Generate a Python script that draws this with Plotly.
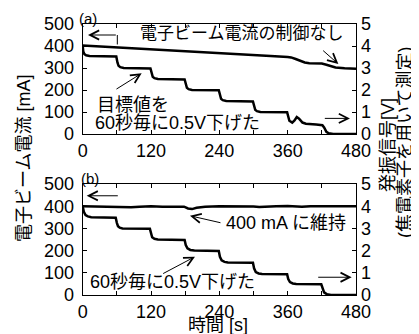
import plotly.graph_objects as go

# ---------------- data ----------------
# panel (a): beam current without control [mA]
t_a_cur = [0, 60, 120, 180, 240, 300, 330, 360, 366, 374, 382, 390, 398, 420, 428, 436, 444, 460, 480]
v_a_cur = [402, 394, 386, 378, 369, 360, 355, 350, 348, 341, 332, 325, 322, 320, 315, 307, 302, 299, 297]
# panel (a): oscillation signal [V]
t_a_sig = [0, 1, 3, 6, 12, 59, 61, 63, 66, 72, 119, 121, 123, 126, 132, 179, 181, 183, 186, 192,
           239, 241, 243, 246, 252, 299, 301, 303, 306, 312, 359, 361, 363, 368, 372, 376, 380, 386,
           392, 410, 421, 424, 428, 432, 440, 480]
v_a_sig = [4.0, 3.75, 3.63, 3.58, 3.55, 3.52, 3.25, 3.1, 3.04, 3.0, 2.98, 2.75, 2.6, 2.54, 2.5,
           2.48, 2.25, 2.1, 2.04, 2.0, 1.99, 1.75, 1.6, 1.54, 1.5, 1.48, 1.25, 1.1, 1.04, 1.0,
           0.99, 0.75, 0.6, 0.52, 0.62, 0.77, 0.7, 0.52, 0.47, 0.43, 0.4, 0.3, 0.1, 0.03, 0.0, 0.0]
# panel (b): beam current held at 400 mA
t_b_cur = [0, 20, 40, 60, 75, 85, 100, 120, 140, 160, 178, 185, 192, 200, 215, 240, 270, 300,
           310, 320, 340, 360, 375, 385, 400, 420, 440, 460, 480]
v_b_cur = [400, 399, 400, 399, 396, 395, 398, 400, 398, 399, 398, 390, 387, 393, 398, 400, 400,
           399, 396, 398, 400, 401, 398, 397, 400, 400, 399, 400, 400]
# panel (b): oscillation signal [V]
t_b_sig = [0, 2, 5, 9, 15, 58, 60, 62, 65, 70, 118, 120, 122, 126, 132, 179, 181, 184, 189, 196,
           239, 241, 244, 249, 255, 299, 301, 304, 309, 315, 359, 361, 364, 369, 375, 419, 421,
           424, 429, 436, 480]
v_b_sig = [4.0, 3.75, 3.6, 3.54, 3.5, 3.48, 3.25, 3.1, 3.03, 3.0, 2.98, 2.75, 2.6, 2.53, 2.5,
           2.48, 2.25, 2.1, 2.03, 2.0, 1.98, 1.72, 1.56, 1.49, 1.46, 1.45, 1.2, 1.03, 0.97, 0.95,
           0.94, 0.72, 0.58, 0.52, 0.5, 0.48, 0.3, 0.12, 0.03, 0.0, 0.0]

x_ticks = [0, 120, 240, 360, 480]
mA_ticks = [0, 100, 200, 300, 400, 500]
V_ticks = [0, 1, 2, 3, 4, 5]

FONT = "Liberation Sans, Arial, Noto Sans CJK JP, sans-serif"
# the page body has an 8 px margin, so the figure is made smaller and all
# page-pixel positions are shifted by that offset
OFF = 8
W, H = 419 - OFF, 334 - OFF


def px(xp):
    return (xp - OFF) / W


def py(yp):
    return 1 - (yp - OFF) / H


# ---------------- figure ----------------
line = dict(color="black", width=2.5)
fig = go.Figure()
fig.add_trace(go.Scatter(x=t_a_cur, y=v_a_cur, xaxis="x", yaxis="y", mode="lines", line=line, cliponaxis=False))
fig.add_trace(go.Scatter(x=t_a_sig, y=v_a_sig, xaxis="x", yaxis="y2", mode="lines", line=line, cliponaxis=False))
fig.add_trace(go.Scatter(x=t_b_cur, y=v_b_cur, xaxis="x2", yaxis="y3", mode="lines", line=line, cliponaxis=False))
fig.add_trace(go.Scatter(x=t_b_sig, y=v_b_sig, xaxis="x2", yaxis="y4", mode="lines", line=line, cliponaxis=False))

xdom = [px(82.7), px(356)]
ydom_a = [py(134), py(24)]
ydom_b = [py(295), py(184)]

tickfont = dict(family=FONT, size=18, color="black")
common_x = dict(range=[0, 480], tickvals=x_ticks, ticks="inside", ticklen=4, tickcolor="black",
                showline=True, linecolor="black", linewidth=1, mirror="ticks", showgrid=False,
                zeroline=False, tickfont=tickfont, automargin=False,
                minor=dict(tickvals=[60, 180, 300, 420], ticks="inside", ticklen=4, tickcolor="black"))
common_l = dict(range=[0, 500], tickvals=mA_ticks, ticks="inside", ticklen=4, tickcolor="black",
                showline=True, linecolor="black", linewidth=1, mirror=True, showgrid=False,
                zeroline=False, tickfont=tickfont, automargin=False, ticklabelstandoff=4)
common_r = dict(range=[0, 5], tickvals=V_ticks, ticks="inside", ticklen=4, tickcolor="black",
                showline=False, side="right", showgrid=False, zeroline=False, tickfont=tickfont,
                automargin=False, ticklabelstandoff=4)

fig.update_layout(
    template="none",
    width=W, height=H, margin=dict(l=0, r=0, t=0, b=0, pad=0),
    paper_bgcolor="white", plot_bgcolor="white", showlegend=False,
    font=dict(family=FONT, color="black"),
    xaxis=dict(domain=xdom, anchor="y", **common_x),
    yaxis=dict(domain=ydom_a, anchor="x", **common_l),
    yaxis2=dict(overlaying="y", anchor="x", **common_r),
    xaxis2=dict(domain=xdom, anchor="y3", **common_x),
    yaxis3=dict(domain=ydom_b, anchor="x2", **common_l),
    yaxis4=dict(overlaying="y3", anchor="x2", **common_r),
)

ann = []


def arrow(xr, yr, x_head, y_head, x_tail, y_tail):
    ann.append(dict(xref=xr, yref=yr, axref=xr, ayref=yr, x=x_head, y=y_head, ax=x_tail, ay=y_tail,
                    text="", showarrow=True, arrowhead=5, arrowsize=1.8, arrowwidth=1,
                    arrowcolor="black"))


def label(xr, yr, x, y, s, size=18, xanchor="left", angle=0):
    ann.append(dict(xref=xr, yref=yr, x=x, y=y, text=s, showarrow=False, xanchor=xanchor,
                    yanchor="middle", textangle=angle, font=dict(family=FONT, size=size, color="black")))


# panel (a)
arrow("x", "y", 9.3, 450, 60.8, 450)
label("x", "y", 279, 455, "電子ビーム電流の制御なし", size=17, xanchor="center")
arrow("x", "y", 449, 318, 419.7, 385)
label("x", "y", 21.6, 132, "目標値を")
label("x", "y", 18.1, 49, "60秒毎に0.5V下げた")
arrow("x", "y", 103.6, 276, 56.7, 200)
arrow("x", "y", 469.4, 71, 422.6, 71)
# panel (b)
arrow("x2", "y3", 7, 447, 64.3, 447)
arrow("x2", "y3", 188.4, 357, 244.6, 324)
label("x2", "y3", 247.3, 326, "400 mA に維持")
label("x2", "y3", 9.8, 60, "60秒毎に0.5V下げた")
arrow("x2", "y3", 197.2, 172.5, 138.7, 93)
arrow("x2", "y3", 472.4, 80, 411, 80)
# panel letters and axis titles
label("paper", "paper", px(88), py(18), "(a)", size=15, xanchor="center")
label("paper", "paper", px(90), py(178), "(b)", size=15, xanchor="center")
label("paper", "paper", px(218), py(325), "時間 [s]", xanchor="center")
label("paper", "paper", px(24), py(159), "電子ビーム電流 [mA]", xanchor="center", angle=-90)
label("paper", "paper", px(388), py(145), "発振信号[V]", xanchor="center", angle=-90)
label("paper", "paper", px(405), py(143), "(焦電素子を用いて測定)", xanchor="center", angle=-90)

fig.update_layout(annotations=ann)
fig.add_shape(type="line", xref="x", yref="y", x0=60.8, x1=60.8, y0=450, y1=407,
              line=dict(color="black", width=1))

fig.write_html("out.html")
